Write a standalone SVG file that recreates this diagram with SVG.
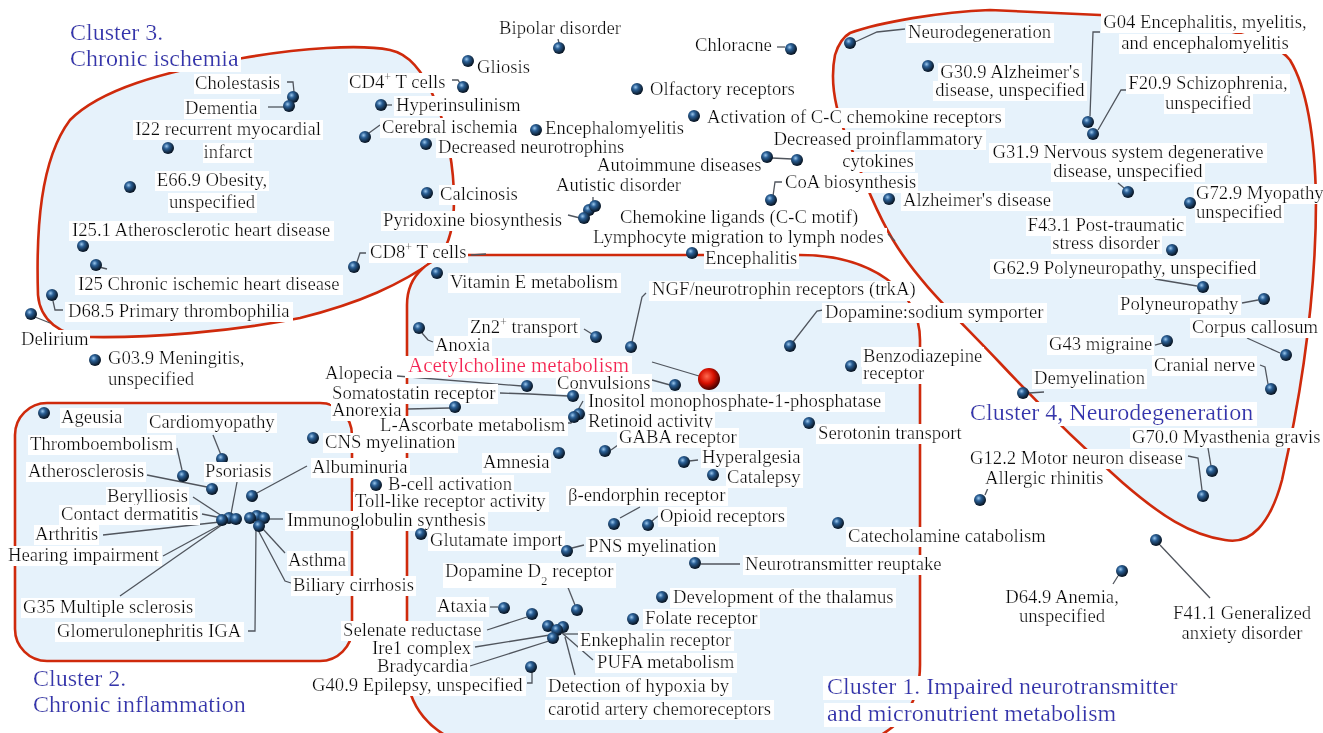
<svg xmlns="http://www.w3.org/2000/svg" width="1323" height="733" viewBox="0 0 1323 733">
<style>
.lb{font-family:"Liberation Serif","Times New Roman",serif;font-size:18.7px;fill:#111;filter:url(#bg)}
.m{text-anchor:middle}
.ti{font-family:"Liberation Serif","Times New Roman",serif;font-size:24px;fill:#3434b0;filter:url(#bg)}
.ach{font-size:21px;fill:#f5245a}
.n{fill:url(#ball)}
.c{fill:none;stroke:#50555d;stroke-width:1.3}
.cl{fill:#e6f2fb;stroke:#cf2a0c;stroke-width:2.6;stroke-linejoin:round}
</style>
<defs>
<filter id="bg" x="-0.01" y="0.14" width="1.02" height="0.87"><feFlood flood-color="#ffffff" result="w"/><feMerge><feMergeNode in="w"/><feMergeNode in="SourceGraphic"/></feMerge></filter>
<radialGradient id="ball" cx="0.38" cy="0.35" r="0.65"><stop offset="0" stop-color="#9cc8ee"/><stop offset="0.35" stop-color="#2a5f95"/><stop offset="1" stop-color="#07121f"/></radialGradient>
<radialGradient id="redball" cx="0.4" cy="0.38" r="0.65"><stop offset="0" stop-color="#ff6a50"/><stop offset="0.5" stop-color="#d81000"/><stop offset="1" stop-color="#3a0000"/></radialGradient>
</defs>
<rect width="1323" height="733" fill="#ffffff"/>
<g id="clusters">
<path id="cluster3" class="cl" d="M243,58 C300,48 360,44 390,50 C410,54 425,75 435,100 C448,130 454,170 454,200 C454,225 450,245 438,258 C400,285 360,303 300,318 C230,332 150,338 90,337 C60,336 40,320 38,295 C36,230 40,160 70,120 C100,90 160,72 243,58 Z"/>
<rect id="cluster2" class="cl" x="15" y="403" width="337" height="258" rx="32" ry="32"/>
<path id="cluster1" class="cl" d="M407,670 L407,305 C407,275 430,255 460,255 L800,255 C870,255 920,290 920,340 L920,665 C920,700 905,728 860,745 L470,745 C430,735 407,705 407,670 Z"/>
<path id="cluster4" class="cl" d="M850,33 C880,22 940,12 990,10 L1100,15 C1200,20 1270,35 1290,60 C1308,90 1315,140 1316,200 C1316,300 1300,400 1282,480 C1270,525 1250,545 1225,540 C1190,535 1160,515 1123,483 C1080,445 1030,395 1000,363 C960,320 920,285 893,240 C875,210 860,170 848,140 C835,110 830,80 835,55 C838,45 843,37 850,33 Z"/>
</g>
<g id="connectors">
<path class="c" d="M287,82 H293 L294,92"/>
<path class="c" d="M268,107 H284"/>
<path class="c" d="M99,267 L107,269"/>
<path class="c" d="M53,301 L55,310 H63"/>
<path class="c" d="M35,317 L50,323"/>
<path class="c" d="M452,80 H458 L461,85"/>
<path class="c" d="M386,105 H392"/>
<path class="c" d="M369,133 L380,125"/>
<path class="c" d="M568,215 L580,218"/>
<path class="c" d="M593,197 V203"/>
<path class="c" d="M558,39 L559,43"/>
<path class="c" d="M777,47 H785"/>
<path class="c" d="M772,158 L792,159"/>
<path class="c" d="M773,196 L775,182 H782"/>
<path class="c" d="M888,234 L895,241"/>
<path class="c" d="M357,262 L360,253 H366"/>
<path class="c" d="M471,255 L486,254"/>
<path class="c" d="M855,42 L877,32 L905,29"/>
<path class="c" d="M1100,32 H1093 L1090,116"/>
<path class="c" d="M1127,90 H1121 L1098,130"/>
<path class="c" d="M1118,183 L1124,188"/>
<path class="c" d="M1155,279 L1197,286"/>
<path class="c" d="M1242,303 L1258,300"/>
<path class="c" d="M1247,338 L1280,353"/>
<path class="c" d="M1155,345 L1162,343"/>
<path class="c" d="M1260,365 L1265,367 L1268,384"/>
<path class="c" d="M1029,393 L1044,392"/>
<path class="c" d="M1208,448 L1211,466"/>
<path class="c" d="M1188,456 L1198,458 L1202,490"/>
<path class="c" d="M985,495 L988,488"/>
<path class="c" d="M1160,545 L1210,598"/>
<path class="c" d="M1118,576 L1113,584"/>
<path class="c" d="M213,435 L221,455"/>
<path class="c" d="M177,448 L182,470"/>
<path class="c" d="M147,475 L207,487"/>
<path class="c" d="M307,466 L257,493"/>
<path class="c" d="M237,482 L231,514"/>
<path class="c" d="M193,497 L222,516"/>
<path class="c" d="M202,514 L222,518"/>
<path class="c" d="M103,535 L220,522"/>
<path class="c" d="M163,556 L222,524"/>
<path class="c" d="M120,596 L226,522"/>
<path class="c" d="M248,631 H255 L256,527"/>
<path class="c" d="M268,519 H283"/>
<path class="c" d="M263,529 L285,553"/>
<path class="c" d="M258,530 L285,581 L291,583"/>
<path class="c" d="M584,329 L592,334"/>
<path class="c" d="M632,342 L642,297 L646,293"/>
<path class="c" d="M793,342 L817,311 L823,310"/>
<path class="c" d="M422,333 L428,340 L433,342"/>
<path class="c" d="M652,362 L699,376"/>
<path class="c" d="M652,380 L670,385"/>
<path class="c" d="M397,376 L522,386"/>
<path class="c" d="M500,393 L530,394 L568,396"/>
<path class="c" d="M583,401 L578,410"/>
<path class="c" d="M408,409 L450,408"/>
<path class="c" d="M565,423 H571 L573,419"/>
<path class="c" d="M611,450 L618,445"/>
<path class="c" d="M689,461 L698,460"/>
<path class="c" d="M620,518 L640,507"/>
<path class="c" d="M652,521 L658,516"/>
<path class="c" d="M572,548 L584,545"/>
<path class="c" d="M701,564 H740"/>
<path class="c" d="M567,585 L575,605"/>
<path class="c" d="M490,607 H498"/>
<path class="c" d="M487,630 L527,617"/>
<path class="c" d="M563,634 H578"/>
<path class="c" d="M475,647 L550,635"/>
<path class="c" d="M562,633 L593,660"/>
<path class="c" d="M470,666 L552,640"/>
<path class="c" d="M527,683 H532 V672"/>
<path class="c" d="M565,637 L575,675"/>
</g>
<g id="titles">
<text class="ti" x="70" y="40">Cluster 3.</text>
<text class="ti" x="70" y="66">Chronic ischemia</text>
<text class="ti" x="33" y="686">Cluster 2.</text>
<text class="ti" x="33" y="712">Chronic inflammation</text>
<text class="ti" x="827" y="694">Cluster 1. Impaired neurotransmitter</text>
<text class="ti" x="827" y="721">and micronutrient metabolism</text>
<text class="ti" x="970" y="420">Cluster 4, Neurodegeneration</text>
</g>
<g id="n-cholestasis"><text class="lb" x="195" y="89">Cholestasis</text><circle class="n" cx="293" cy="97" r="6"/></g>
<g id="n-dementia"><text class="lb" x="185" y="114">Dementia</text><circle class="n" cx="289" cy="106" r="6"/></g>
<g id="n-i22"><text class="lb m" x="228" y="135">I22 recurrent myocardial</text><text class="lb m" x="228" y="158">infarct</text><circle class="n" cx="168" cy="148" r="6"/></g>
<g id="n-e669"><text class="lb m" x="212" y="186">E66.9 Obesity,</text><text class="lb m" x="212" y="208">unspecified</text><circle class="n" cx="130" cy="187" r="6"/></g>
<g id="n-i251"><text class="lb" x="72" y="236">I25.1 Atherosclerotic heart disease</text><circle class="n" cx="83" cy="246" r="6"/></g>
<g id="n-i25"><text class="lb" x="78" y="290">I25 Chronic ischemic heart disease</text><circle class="n" cx="96" cy="265" r="6"/></g>
<g id="n-d685"><text class="lb" x="68" y="317">D68.5 Primary thrombophilia</text><circle class="n" cx="52" cy="295" r="6"/></g>
<g id="n-delirium"><text class="lb" x="21" y="345">Delirium</text><circle class="n" cx="31" cy="314" r="6"/></g>
<g id="n-g039"><text class="lb" x="108" y="364">G03.9 Meningitis,</text><text class="lb" x="108" y="385">unspecified</text><circle class="n" cx="95" cy="360" r="6"/></g>
<g id="n-cd4"><text class="lb" x="349" y="88">CD4<tspan baseline-shift="super" font-size="12">+</tspan> T cells</text><circle class="n" cx="463" cy="87" r="6"/></g>
<g id="n-hyperinsulinism"><text class="lb" x="396" y="111">Hyperinsulinism</text><circle class="n" cx="381" cy="105" r="6"/></g>
<g id="n-cerebral"><text class="lb" x="382" y="133">Cerebral ischemia</text><circle class="n" cx="365" cy="137" r="6"/></g>
<g id="n-neurotrophins"><text class="lb" x="438" y="153">Decreased neurotrophins</text><circle class="n" cx="426" cy="144" r="6"/></g>
<g id="n-calcinosis"><text class="lb" x="440" y="200">Calcinosis</text><circle class="n" cx="427" cy="193" r="6"/></g>
<g id="n-pyridoxine"><text class="lb" x="383" y="226">Pyridoxine biosynthesis</text><circle class="n" cx="589" cy="210" r="6"/><circle class="n" cx="584" cy="218" r="6"/></g>
<g id="n-autistic"><text class="lb" x="556" y="191">Autistic disorder</text><circle class="n" cx="595" cy="206" r="6"/></g>
<g id="n-gliosis"><text class="lb" x="477" y="73">Gliosis</text><circle class="n" cx="468" cy="61" r="6"/></g>
<g id="n-bipolar"><text class="lb" x="499" y="34">Bipolar disorder</text><circle class="n" cx="559" cy="48" r="6"/></g>
<g id="n-encephalomyelitis"><text class="lb" x="545" y="134">Encephalomyelitis</text><circle class="n" cx="536" cy="130" r="6"/></g>
<g id="n-olfactory"><text class="lb" x="650" y="95">Olfactory receptors</text><circle class="n" cx="637" cy="89" r="6"/></g>
<g id="n-chloracne"><text class="lb" x="695" y="51">Chloracne</text><circle class="n" cx="791" cy="49" r="6"/></g>
<g id="n-activation"><text class="lb" x="707" y="123">Activation of C-C chemokine receptors</text><circle class="n" cx="694" cy="116" r="6"/></g>
<g id="n-proinflammatory"><text class="lb m" x="878" y="145">Decreased proinflammatory</text><text class="lb m" x="878" y="167">cytokines</text><circle class="n" cx="797" cy="160" r="6"/></g>
<g id="n-autoimmune"><text class="lb" x="597" y="171">Autoimmune diseases</text><circle class="n" cx="767" cy="157" r="6"/></g>
<g id="n-coa"><text class="lb" x="785" y="188">CoA biosynthesis</text><circle class="n" cx="771" cy="200" r="6"/></g>
<g id="n-chemokine"><text class="lb" x="620" y="223">Chemokine ligands (C-C motif)</text></g>
<g id="n-lymphocyte"><text class="lb" x="593" y="243">Lymphocyte migration to lymph nodes</text></g>
<g id="n-cd8"><text class="lb" x="370" y="258">CD8<tspan baseline-shift="super" font-size="12">+</tspan> T cells</text><circle class="n" cx="354" cy="267" r="6"/></g>
<g id="n-neurodegeneration"><text class="lb" x="908" y="38">Neurodegeneration</text><circle class="n" cx="850" cy="43" r="6"/></g>
<g id="n-g309"><text class="lb m" x="1010" y="78">G30.9 Alzheimer's</text><text class="lb m" x="1010" y="96">disease, unspecified</text><circle class="n" cx="928" cy="66" r="6"/></g>
<g id="n-alzheimers"><text class="lb" x="903" y="206">Alzheimer's disease</text><circle class="n" cx="889" cy="199" r="6"/></g>
<g id="n-g04"><text class="lb m" x="1205" y="28">G04 Encephalitis, myelitis,</text><text class="lb m" x="1205" y="49">and encephalomyelitis</text><circle class="n" cx="1088" cy="122" r="6"/></g>
<g id="n-f209"><text class="lb m" x="1208" y="89">F20.9 Schizophrenia,</text><text class="lb m" x="1208" y="109">unspecified</text><circle class="n" cx="1093" cy="134" r="6"/></g>
<g id="n-g319"><text class="lb m" x="1128" y="158">G31.9 Nervous system degenerative</text><text class="lb m" x="1128" y="177">disease, unspecified</text><circle class="n" cx="1128" cy="192" r="6"/></g>
<g id="n-g729"><text class="lb" x="1196" y="199">G72.9 Myopathy</text><text class="lb" x="1196" y="218">unspecified</text><circle class="n" cx="1190" cy="203" r="6"/></g>
<g id="n-f431"><text class="lb m" x="1106" y="231">F43.1 Post-traumatic</text><text class="lb m" x="1106" y="249">stress disorder</text><circle class="n" cx="1172" cy="250" r="6"/></g>
<g id="n-g629"><text class="lb" x="993" y="274">G62.9 Polyneuropathy, unspecified</text><circle class="n" cx="1203" cy="287" r="6"/></g>
<g id="n-polyneuropathy"><text class="lb" x="1120" y="310">Polyneuropathy</text><circle class="n" cx="1264" cy="299" r="6"/></g>
<g id="n-corpus"><text class="lb" x="1192" y="333">Corpus callosum</text><circle class="n" cx="1286" cy="355" r="6"/></g>
<g id="n-g43"><text class="lb" x="1049" y="350">G43 migraine</text><circle class="n" cx="1167" cy="341" r="6"/></g>
<g id="n-cranial"><text class="lb" x="1154" y="371">Cranial nerve</text><circle class="n" cx="1271" cy="389" r="6"/></g>
<g id="n-demyelination"><text class="lb" x="1034" y="384">Demyelination</text><circle class="n" cx="1023" cy="393" r="6"/></g>
<g id="n-g700"><text class="lb" x="1132" y="443">G70.0 Myasthenia gravis</text><circle class="n" cx="1212" cy="471" r="6"/></g>
<g id="n-g122"><text class="lb" x="970" y="464">G12.2 Motor neuron disease</text><circle class="n" cx="1203" cy="496" r="6"/></g>
<g id="n-allergic"><text class="lb" x="985" y="484">Allergic rhinitis</text><circle class="n" cx="980" cy="500" r="6"/></g>
<g id="n-f411"><text class="lb m" x="1242" y="619">F41.1 Generalized</text><text class="lb m" x="1242" y="639">anxiety disorder</text><circle class="n" cx="1156" cy="540" r="6"/></g>
<g id="n-d649"><text class="lb m" x="1062" y="603">D64.9 Anemia,</text><text class="lb m" x="1062" y="622">unspecified</text><circle class="n" cx="1122" cy="571" r="6"/></g>
<g id="n-ageusia"><text class="lb" x="61" y="423">Ageusia</text><circle class="n" cx="44" cy="413" r="6"/></g>
<g id="n-cardiomyopathy"><text class="lb" x="149" y="428">Cardiomyopathy</text><circle class="n" cx="222" cy="459" r="6"/></g>
<g id="n-psoriasis"><text class="lb" x="205" y="477">Psoriasis</text><circle class="n" cx="229" cy="518" r="6"/></g>
<g id="n-thromboembolism"><text class="lb" x="30" y="450">Thromboembolism</text><circle class="n" cx="183" cy="476" r="6"/></g>
<g id="n-atherosclerosis"><text class="lb" x="28" y="477">Atherosclerosis</text><circle class="n" cx="212" cy="489" r="6"/></g>
<g id="n-cns"><text class="lb" x="325" y="448">CNS myelination</text><circle class="n" cx="313" cy="438" r="6"/></g>
<g id="n-albuminuria"><text class="lb" x="312" y="473">Albuminuria</text><circle class="n" cx="252" cy="496" r="6"/></g>
<g id="n-berylliosis"><text class="lb" x="107" y="502">Berylliosis</text><circle class="n" cx="222" cy="520" r="6"/></g>
<g id="n-contact"><text class="lb" x="61" y="520">Contact dermatitis</text><circle class="n" cx="236" cy="519" r="6"/></g>
<g id="n-arthritis"><text class="lb" x="35" y="540">Arthritis</text></g>
<g id="n-hearing"><text class="lb" x="8" y="561">Hearing impairment</text></g>
<g id="n-g35"><text class="lb" x="23" y="613">G35 Multiple sclerosis</text></g>
<g id="n-glomerulonephritis"><text class="lb" x="57" y="637">Glomerulonephritis IGA</text><circle class="n" cx="257" cy="516" r="6"/></g>
<g id="n-immunoglobulin"><text class="lb" x="287" y="526">Immunoglobulin synthesis</text><circle class="n" cx="264" cy="518" r="6"/></g>
<g id="n-asthma"><text class="lb" x="288" y="566">Asthma</text><circle class="n" cx="250" cy="518" r="6"/></g>
<g id="n-biliary"><text class="lb" x="293" y="591">Biliary cirrhosis</text><circle class="n" cx="259" cy="526" r="6"/></g>
<g id="n-vitamine"><text class="lb" x="450" y="288">Vitamin E metabolism</text><circle class="n" cx="437" cy="273" r="6"/></g>
<g id="n-zn"><text class="lb" x="470" y="333">Zn2<tspan baseline-shift="super" font-size="12">+</tspan> transport</text><circle class="n" cx="596" cy="337" r="6"/></g>
<g id="n-ngf"><text class="lb" x="652" y="295">NGF/neurotrophin receptors (trkA)</text><circle class="n" cx="631" cy="347" r="6"/></g>
<g id="n-encephalitis"><text class="lb" x="705" y="264">Encephalitis</text><circle class="n" cx="692" cy="253" r="6"/></g>
<g id="n-dopaminesodium"><text class="lb" x="825" y="318">Dopamine:sodium symporter</text><circle class="n" cx="790" cy="346" r="6"/></g>
<g id="n-benzodiazepine"><text class="lb" x="863" y="362">Benzodiazepine</text><text class="lb" x="863" y="379">receptor</text><circle class="n" cx="851" cy="366" r="6"/></g>
<g id="n-anoxia"><text class="lb" x="435" y="351">Anoxia</text><circle class="n" cx="419" cy="328" r="6"/></g>
<g id="n-acetylcholine"><text class="lb ach" x="408" y="372">Acetylcholine metabolism</text><circle cx="709" cy="379" r="11" fill="url(#redball)"/></g>
<g id="n-convulsions"><text class="lb" x="557" y="389">Convulsions</text><circle class="n" cx="675" cy="385" r="6"/></g>
<g id="n-alopecia"><text class="lb" x="325" y="379">Alopecia</text><circle class="n" cx="527" cy="386" r="6"/></g>
<g id="n-somatostatin"><text class="lb" x="332" y="399">Somatostatin receptor</text><circle class="n" cx="573" cy="396" r="6"/></g>
<g id="n-inositol"><text class="lb" x="588" y="407">Inositol monophosphate-1-phosphatase</text><circle class="n" cx="579" cy="414" r="6"/></g>
<g id="n-anorexia"><text class="lb" x="332" y="416">Anorexia</text><circle class="n" cx="455" cy="407" r="6"/></g>
<g id="n-retinoid"><text class="lb" x="588" y="427">Retinoid activity</text><circle class="n" cx="574" cy="417" r="6"/></g>
<g id="n-ascorbate"><text class="lb" x="380" y="431">L-Ascorbate metabolism</text></g>
<g id="n-gaba"><text class="lb" x="619" y="443">GABA receptor</text><circle class="n" cx="605" cy="451" r="6"/></g>
<g id="n-amnesia"><text class="lb" x="483" y="468">Amnesia</text><circle class="n" cx="559" cy="453" r="6"/></g>
<g id="n-hyperalgesia"><text class="lb" x="702" y="463">Hyperalgesia</text><circle class="n" cx="684" cy="462" r="6"/></g>
<g id="n-catalepsy"><text class="lb" x="727" y="483">Catalepsy</text><circle class="n" cx="713" cy="475" r="6"/></g>
<g id="n-serotonin"><text class="lb" x="818" y="439">Serotonin transport</text><circle class="n" cx="809" cy="423" r="6"/></g>
<g id="n-bcell"><text class="lb" x="388" y="490">B-cell activation</text><circle class="n" cx="376" cy="485" r="6"/></g>
<g id="n-toll"><text class="lb" x="355" y="507">Toll-like receptor activity</text></g>
<g id="n-endorphin"><text class="lb" x="568" y="501">β-endorphin receptor</text><circle class="n" cx="614" cy="524" r="6"/></g>
<g id="n-opioid"><text class="lb" x="660" y="522">Opioid receptors</text><circle class="n" cx="648" cy="525" r="6"/></g>
<g id="n-glutamate"><text class="lb" x="430" y="546">Glutamate import</text><circle class="n" cx="421" cy="534" r="6"/></g>
<g id="n-pns"><text class="lb" x="588" y="552">PNS myelination</text><circle class="n" cx="567" cy="551" r="6"/></g>
<g id="n-catecholamine"><text class="lb" x="848" y="542">Catecholamine catabolism</text><circle class="n" cx="838" cy="523" r="6"/></g>
<g id="n-reuptake"><text class="lb" x="745" y="570">Neurotransmitter reuptake</text><circle class="n" cx="695" cy="563" r="6"/></g>
<g id="n-d2"><text class="lb" x="445" y="577">Dopamine D<tspan baseline-shift="sub" font-size="13">2</tspan> receptor</text><circle class="n" cx="577" cy="610" r="6"/></g>
<g id="n-thalamus"><text class="lb" x="673" y="603">Development of the thalamus</text><circle class="n" cx="662" cy="597" r="6"/></g>
<g id="n-ataxia"><text class="lb" x="437" y="612">Ataxia</text><circle class="n" cx="504" cy="608" r="6"/></g>
<g id="n-folate"><text class="lb" x="645" y="624">Folate receptor</text><circle class="n" cx="633" cy="619" r="6"/></g>
<g id="n-selenate"><text class="lb" x="343" y="636">Selenate reductase</text><circle class="n" cx="532" cy="614" r="6"/></g>
<g id="n-enkephalin"><text class="lb" x="580" y="646">Enkephalin receptor</text><circle class="n" cx="563" cy="627" r="6"/></g>
<g id="n-ire1"><text class="lb" x="372" y="654">Ire1 complex</text><circle class="n" cx="548" cy="626" r="6"/></g>
<g id="n-pufa"><text class="lb" x="597" y="668">PUFA metabolism</text><circle class="n" cx="557" cy="630" r="6"/></g>
<g id="n-bradycardia"><text class="lb" x="377" y="672">Bradycardia</text><circle class="n" cx="553" cy="638" r="6"/></g>
<g id="n-g409"><text class="lb" x="312" y="691">G40.9 Epilepsy, unspecified</text><circle class="n" cx="531" cy="667" r="6"/></g>
<g id="n-hypoxia"><text class="lb" x="548" y="692">Detection of hypoxia by</text><text class="lb" x="548" y="715">carotid artery chemoreceptors</text></g>
</svg>
